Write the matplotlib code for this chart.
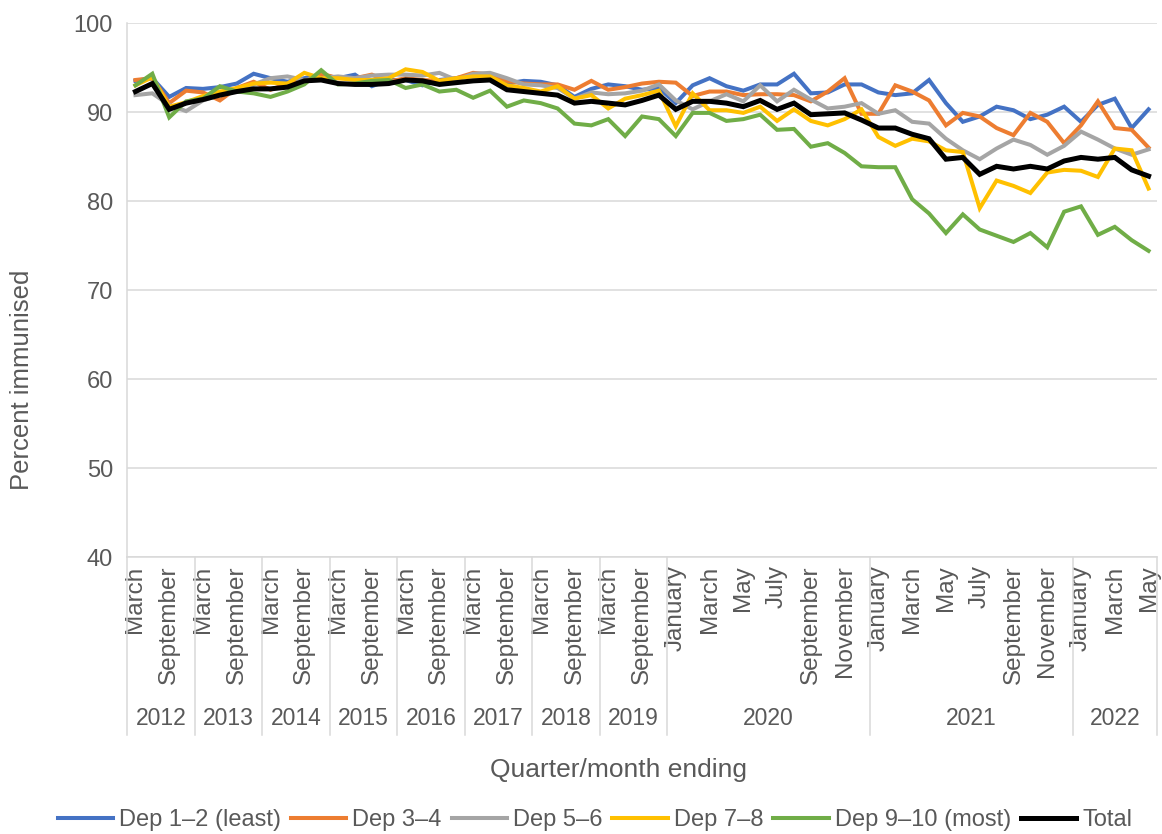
import numpy as np
import matplotlib.pyplot as plt
from matplotlib.lines import Line2D

plt.rcParams['font.family'] = ['Liberation Sans', 'DejaVu Sans']

# category axis: quarters 2012-2019, then months 2020 - May 2022
quarters = ["March", "June", "September", "December"]
months = ["January", "February", "March", "April", "May", "June", "July",
          "August", "September", "October", "November", "December"]
periods = quarters * 8 + months + months + months[:5]

years = ["2012", "2013", "2014", "2015", "2016", "2017", "2018", "2019",
         "2020", "2021", "2022"]
year_counts = [4, 4, 4, 4, 4, 4, 4, 4, 12, 12, 5]

dep12 = [93.5, 93.8, 91.7, 92.7, 92.6, 92.8, 93.2, 94.3, 93.8, 93.4, 93.8, 94.2,
         93.8, 94.2, 92.9, 93.6, 93.6, 93.0, 93.6, 93.8, 94.2, 94.2, 93.2, 93.5,
         93.4, 93.0, 91.7, 92.6, 93.1, 92.9, 92.5, 92.7, 91.0, 93.0, 93.8, 92.9,
         92.4, 93.1, 93.1, 94.3, 92.1, 92.2, 93.1, 93.1, 92.2, 91.9, 92.1, 93.6,
         91.0, 88.9, 89.5, 90.6, 90.2, 89.2, 89.7, 90.6, 88.9, 90.8, 91.5, 88.2, 90.3]
dep34 = [93.6, 93.8, 91.0, 92.4, 92.2, 91.3, 92.7, 93.4, 92.5, 93.2, 93.4, 94.3,
         93.8, 93.8, 94.2, 93.4, 93.8, 93.6, 93.5, 93.8, 94.4, 94.2, 93.5, 93.2,
         93.1, 93.1, 92.5, 93.5, 92.5, 92.8, 93.2, 93.4, 93.3, 91.8, 92.3, 92.3,
         91.9, 92.0, 92.0, 91.9, 91.2, 92.3, 93.8, 89.8, 89.8, 93.0, 92.3, 91.3,
         88.5, 89.9, 89.5, 88.2, 87.4, 89.9, 88.9, 86.5, 88.5, 91.2, 88.2, 88.0, 86.0]
dep56 = [91.9, 92.1, 90.8, 90.1, 91.3, 91.9, 92.5, 93.1, 93.8, 94.0, 93.6, 93.8,
         94.0, 93.8, 94.1, 94.2, 94.2, 94.1, 94.4, 93.6, 94.3, 94.4, 93.8, 93.1,
         93.0, 92.7, 91.5, 92.2, 92.0, 92.1, 92.4, 93.1, 91.3, 90.3, 91.2, 92.0,
         91.2, 93.0, 91.2, 92.5, 91.4, 90.4, 90.6, 91.0, 89.8, 90.2, 88.9, 88.7,
         87.0, 85.7, 84.7, 85.9, 86.9, 86.3, 85.2, 86.2, 87.8, 86.9, 85.9, 85.2, 85.8]
dep78 = [93.0, 93.9, 90.6, 91.1, 91.8, 92.3, 92.7, 93.2, 93.3, 93.2, 94.4, 93.8,
         93.8, 93.6, 93.6, 93.8, 94.8, 94.5, 93.5, 93.8, 94.0, 94.0, 93.0, 92.7,
         92.3, 92.9, 91.5, 91.9, 90.4, 91.5, 91.9, 92.4, 88.4, 92.1, 90.2, 90.2,
         89.9, 90.6, 89.0, 90.3, 89.0, 88.5, 89.2, 90.3, 87.2, 86.2, 87.0, 86.7,
         85.7, 85.5, 79.2, 82.3, 81.7, 80.9, 83.2, 83.5, 83.4, 82.7, 85.9, 85.7, 81.4]
dep910 = [93.0, 94.3, 89.4, 91.2, 91.5, 92.9, 92.3, 92.1, 91.7, 92.3, 93.1, 94.7,
          93.1, 93.2, 93.5, 93.6, 92.7, 93.1, 92.3, 92.5, 91.6, 92.4, 90.6, 91.3,
          91.0, 90.4, 88.7, 88.5, 89.2, 87.3, 89.5, 89.2, 87.3, 89.9, 89.9, 89.0,
          89.2, 89.7, 88.0, 88.1, 86.1, 86.5, 85.4, 83.9, 83.8, 83.8, 80.2, 78.6,
          76.4, 78.5, 76.8, 76.1, 75.4, 76.4, 74.8, 78.8, 79.4, 76.2, 77.1, 75.6, 74.4]
total = [92.3, 93.2, 90.3, 91.0, 91.4, 91.9, 92.3, 92.6, 92.6, 92.8, 93.5, 93.6,
         93.2, 93.1, 93.1, 93.2, 93.6, 93.5, 93.1, 93.3, 93.5, 93.6, 92.5, 92.3,
         92.1, 91.9, 91.0, 91.2, 91.0, 90.8, 91.3, 91.9, 90.3, 91.2, 91.2, 91.0,
         90.6, 91.3, 90.3, 91.0, 89.7, 89.8, 89.9, 89.1, 88.2, 88.2, 87.5, 87.0,
         84.7, 84.9, 83.0, 83.9, 83.6, 83.9, 83.6, 84.5, 84.9, 84.7, 84.9, 83.5, 82.8]

series = [
    ("Dep 1\u20132 (least)", dep12, "#4472C4", 2.9),
    ("Dep 3\u20134", dep34, "#ED7D31", 2.9),
    ("Dep 5\u20136", dep56, "#A5A5A5", 2.9),
    ("Dep 7\u20138", dep78, "#FFC000", 2.9),
    ("Dep 9\u201310 (most)", dep910, "#70AD47", 2.9),
    ("Total", total, "#000000", 3.6),
]

text_col = "#595959"
grid_col = "#D9D9D9"

fig = plt.figure(figsize=(11.62, 8.34), dpi=100)
ax = fig.add_axes([0.1093, 0.3321, 0.8864, 0.6403])

x = np.arange(len(periods))
for name, vals, col, lw in series:
    ax.plot(x, vals, color=col, lw=lw, label=name, solid_joinstyle="miter")

ax.set_xlim(-0.5, len(periods) - 0.5)
ax.set_ylim(40, 100)
ax.set_yticks(range(40, 101, 10))
ax.yaxis.grid(True, color=grid_col, lw=1.1)
ax.set_axisbelow(True)
ax.tick_params(axis="y", length=0, pad=10, labelsize=17, labelcolor=text_col)

# only every other category label shown, as in the original
ax.set_xticks(x[::2])
ax.set_xticklabels(periods[::2], rotation=90, va="top", ha="center")
ax.tick_params(axis="x", length=0, pad=6, labelsize=17.5, labelcolor=text_col)

for side in ["top", "right"]:
    ax.spines[side].set_visible(False)
ax.spines["left"].set_color(grid_col)
ax.spines["bottom"].set_color(grid_col)
ax.spines["left"].set_linewidth(1.1)
ax.spines["bottom"].set_linewidth(1.1)

# year groups under the month labels
trans = ax.get_xaxis_transform()
start = -0.5
bounds = [start]
for nm, n in zip(years, year_counts):
    mid = start + n / 2
    ax.text(mid, -0.3015, nm, transform=trans, ha="center", va="center",
            fontsize=16.5, color=text_col)
    start += n
    bounds.append(start)
for b in bounds:
    ax.add_line(Line2D([b, b], [0, -0.333], transform=trans, color=grid_col,
                       lw=1.1, clip_on=False))

fig.text(22 / 1162, 1 - 380 / 834, "Percent immunised", rotation=90,
         ha="center", va="center", fontsize=18.5, color=text_col)
fig.text(619 / 1162, 1 - 770 / 834, "Quarter/month ending",
         ha="center", va="center", fontsize=19, color=text_col)

leg = fig.legend(loc="center", bbox_to_anchor=(0.512, 1 - 820 / 834), ncol=6,
                 frameon=False, fontsize=17, handlelength=2.35,
                 handletextpad=0.25, columnspacing=0.42, labelcolor=text_col)

fig.savefig("out.png", dpi=100)
